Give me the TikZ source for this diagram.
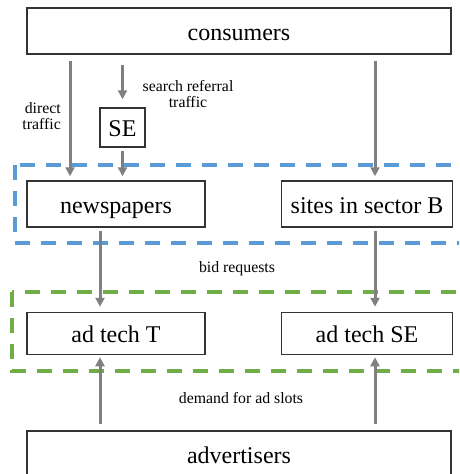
\documentclass[tikz,border=0pt]{standalone}
\usepackage{fontspec}
\setmainfont{Liberation Serif}
\usepackage{tikz}
\usetikzlibrary{arrows.meta,positioning}
\definecolor{adgray}{RGB}{128,128,128}
\definecolor{adline}{RGB}{51,51,51}
\definecolor{adblue}{RGB}{91,155,213}
\definecolor{adgreen}{RGB}{112,173,71}

\begin{document}
\begin{tikzpicture}[
  x=1pt, y=-1pt,
  node distance=84pt and 75pt,
  box/.style={draw=adline, line width=1.5pt, fill=white, inner sep=0pt, text height=18pt, text depth=0pt, font=\fontsize{24}{28}\selectfont},
  wide/.style={box, minimum width=424pt, minimum height=46pt},
  site/.style={box, minimum width=178pt, minimum height=46pt},
  tech/.style={box, minimum width=178pt, minimum height=42pt},
  lbl/.style={inner sep=0pt, align=center, font=\fontsize{15.8}{16.5}\selectfont},
  arrow/.style={-{Triangle[length=9pt,width=9pt]}, line width=3pt, adgray},
  group/.style={line width=4pt, dash pattern=on 15pt off 11pt}
]
  \clip (0,0) rectangle (459,474);
  \useasboundingbox (0,0) rectangle (459,474);

  % publisher and ad tech groups
  \draw[group, adblue] (15,165) rectangle (480,243);
  \draw[group, adgreen] (12,292) rectangle (480,371);

  \node[wide] (consumers) at (239,31) {consumers};
  \node[box, minimum width=45pt, minimum height=39pt] (se) at (122.5,127.5) {SE};
  \node[site] (news) at (116,204) {newspapers};
  \node[site, minimum width=171pt, right=of news] (sites) {sites in sector B};
  \node[tech, below=of news] (techT) {ad tech T};
  \node[tech, minimum width=171pt, right=of techT] (techSE) {ad tech SE};
  \node[wide] (advertisers) at (239,454) {advertisers};

  \node[lbl, anchor=east, align=right] (direct) at (61,116) {direct\\traffic};
  \node[lbl] (search) at (188,94) {search referral\\traffic};
  \node[lbl] (bid) at (237,269) {bid requests};
  \node[lbl] (demand) at (241,398) {demand for ad slots};

  \draw[arrow, shorten <=6pt, shorten >=4pt] (consumers.south -| 70,0) -- (news.north -| 70,0);
  \draw[arrow, shorten <=10pt, shorten >=8pt] (consumers.south -| se.north) -- (se.north);
  \draw[arrow, shorten <=3pt, shorten >=4pt] (se.south) -- (news.north -| se.south);
  \draw[arrow, shorten <=6pt, shorten >=4pt] (consumers.south -| 375,0) -- (sites.north -| 375,0);
  \draw[arrow, shorten <=3pt, shorten >=5pt] (news.south -| 100,0) -- (techT.north -| 100,0);
  \draw[arrow, shorten <=3pt, shorten >=5pt] (sites.south -| 375,0) -- (techSE.north -| 375,0);
  \draw[arrow, shorten <=6pt, shorten >=2pt] (advertisers.north -| 100,0) -- (techT.south -| 100,0);
  \draw[arrow, shorten <=6pt, shorten >=2pt] (advertisers.north -| 375,0) -- (techSE.south -| 375,0);
\end{tikzpicture}
\end{document}
